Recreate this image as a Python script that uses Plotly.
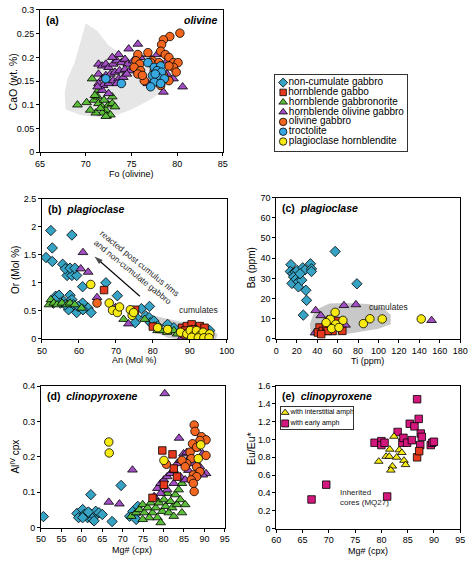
import plotly.graph_objects as go

W, H = 474, 564
FONT = "Arial, Liberation Sans, sans-serif"

# ---------------- colours / symbols per rock type ----------------
rock_names = ["non-cumulate gabbro", "hornblende gabbo", "hornblende gabbronorite",
              "hornblende olivine gabbro", "olivine gabbro", "troctolite",
              "plagioclase hornblendite"]
rock_colors = ["#36a3c4", "#e4391c", "#5bbd3a", "#a24fc4", "#f2661f", "#3aa8e0", "#f6ea12"]
rock_symbols = ["diamond", "square", "triangle-up", "triangle-up", "circle", "circle", "circle"]

# ---------------- panel (a): olivine Fo vs CaO ----------------
a_field_fo = [70.0, 71.3, 72.5, 74.5, 77.0, 79.0, 78.6, 77.0, 75.0, 72.5, 69.5, 67.8, 67.7, 68.0, 68.8, 69.5]
a_field_cao = [0.272, 0.255, 0.225, 0.2, 0.19, 0.17, 0.13, 0.11, 0.09, 0.072, 0.078, 0.09, 0.125, 0.155, 0.19, 0.24]

a_gn_fo = [69.1, 70.1, 70.7, 70.9, 71.3, 71.4, 71.8, 72.2, 72.5, 72.9, 73.2, 71.8, 71.1, 72.3, 72.7, 71.6, 72.0, 71.4, 71.0, 70.5, 72.9, 72.2]
a_gn_cao = [0.10, 0.105, 0.155, 0.11, 0.117, 0.103, 0.096, 0.089, 0.10, 0.103, 0.096, 0.083, 0.083, 0.077, 0.079, 0.093, 0.11, 0.131, 0.12, 0.089, 0.117, 0.076]
a_hog_fo = [71.4, 71.8, 72.2, 72.5, 73.0, 73.4, 73.9, 74.3, 74.6, 75.2, 71.4, 71.8, 72.2, 72.7, 73.2, 73.7, 74.3, 74.8,
            71.4, 71.9, 72.5, 73.0, 73.6, 74.1, 71.8, 72.5, 71.3, 73.4, 74.5, 75.3, 76.0, 76.8, 77.8, 78.9, 78.2, 78.9,
            76.8, 80.6, 78.5, 79.6, 75.7, 74.7, 73.6, 72.9]
a_hog_cao = [0.186, 0.182, 0.186, 0.179, 0.186, 0.193, 0.189, 0.196, 0.186, 0.193, 0.165, 0.155, 0.162, 0.165, 0.169, 0.172, 0.175, 0.172,
             0.145, 0.141, 0.145, 0.151, 0.155, 0.158, 0.131, 0.124, 0.138, 0.145, 0.165, 0.179, 0.20, 0.206, 0.206, 0.193, 0.172, 0.165,
             0.145, 0.138, 0.127, 0.155, 0.228, 0.218, 0.206, 0.20]
a_og_fo = [80.3, 79.2, 78.5, 78.3, 78.2, 78.7, 79.1, 79.6, 80.1, 79.6, 79.1, 76.8, 75.7, 75.5, 75.9, 75.3, 76.0, 75.7, 76.4, 76.2,
           79.9, 77.8, 77.5, 78.5, 79.1, 77.5, 78.2, 77.3, 78.0, 77.1]
a_og_cao = [0.251, 0.244, 0.237, 0.227, 0.213, 0.206, 0.20, 0.189, 0.189, 0.179, 0.182, 0.21, 0.206, 0.193, 0.186, 0.179, 0.172, 0.165, 0.151, 0.162,
            0.169, 0.179, 0.172, 0.162, 0.151, 0.151, 0.141, 0.193, 0.189, 0.189]
a_tr_fo = [72.2, 73.9, 76.8, 77.5, 78.2, 77.8, 78.3, 77.3, 77.9, 78.6, 77.5, 78.2, 77.1, 77.6]
a_tr_cao = [0.155, 0.145, 0.189, 0.179, 0.182, 0.172, 0.169, 0.162, 0.158, 0.155, 0.148, 0.145, 0.138, 0.165]

# ---------------- panel (b): plagioclase An vs Or ----------------
b_field_an = [78.0, 80.0, 86.0, 92.0, 96.0, 97.5, 97.0, 90.0, 84.0, 80.0, 77.5]
b_field_or = [0.38, 0.42, 0.33, 0.25, 0.18, 0.08, -0.02, -0.03, 0.02, 0.15, 0.30]
b_arrow_an = [76.5, 64.2]
b_arrow_or = [0.76, 1.47]

b_nc_an = [51.1, 52.4, 52.8, 52.8, 55.6, 58.1, 56.8, 58.1, 59.4, 56.3, 57.6, 58.9, 61.0, 67.3, 70.4, 61.0, 62.5, 63.3,
           53.1, 53.7, 54.6, 55.9, 57.6, 58.1, 58.5, 57.2, 59.4, 59.8, 61.1, 76.9, 79.1, 78.1, 79.0, 79.4, 80.3, 75.6,
           75.2, 81.3, 84.0, 85.7, 92.7, 94.5, 95.4, 55.0, 56.3, 53.4]
b_nc_or = [1.45, 1.93, 1.62, 1.38, 1.33, 1.85, 1.13, 1.13, 1.13, 1.25, 1.26, 1.26, 0.93, 1.0, 0.77, 0.64, 0.55, 0.47,
           0.64, 0.76, 0.78, 0.67, 0.78, 0.70, 0.61, 0.52, 0.47, 0.58, 0.52, 0.54, 0.58, 0.41, 0.38, 0.29, 0.32, 0.38,
           0.29, 0.23, 0.26, 0.20, 0.17, 0.15, 0.15, 0.64, 0.61, 0.70]
b_gn_an = [51.9, 52.4, 53.2, 54.1, 55.4, 56.8, 57.6, 58.9, 60.7, 72.1, 77.8, 80.4, 81.3, 82.2, 83.9, 84.8, 85.7, 87.5, 86.6]
b_gn_or = [0.61, 0.70, 0.64, 0.61, 0.64, 0.61, 0.64, 0.61, 0.55, 0.35, 0.35, 0.23, 0.15, 0.15, 0.12, 0.15, 0.15, 0.12, 0.09]
b_hog_an = [61.1, 60.5, 62.5, 64.9, 69.9, 73.4, 87.9, 88.8, 91.8]
b_hog_or = [1.54, 1.25, 1.19, 0.74, 0.56, 0.27, 0.03, 0.06, 0.09]
b_hg_an = [66.8, 75.2, 80.0, 87.9, 89.2, 90.5, 92.7, 94.0, 91.0, 88.8]
b_hg_or = [0.87, 0.52, 0.22, 0.20, 0.23, 0.26, 0.23, 0.20, 0.17, 0.15]
b_og_an = [64.9, 88.3, 91.8]
b_og_or = [0.64, 0.09, 0.12]
b_ph_an = [63.2, 68.2, 69.1, 70.4, 71.0, 73.9, 74.4, 74.8, 81.3, 84.0, 87.5, 89.2, 90.1, 91.0, 91.8, 92.7, 93.6, 94.5, 95.4,
           90.5, 92.3, 93.8, 95.2]
b_ph_or = [0.97, 0.64, 0.51, 0.47, 0.57, 0.52, 0.42, 0.47, 0.20, 0.17, 0.12, 0.09, 0.15, 0.06, 0.15, 0.06, 0.12, 0.03, 0.09,
           0.03, 0.02, 0.02, 0.02]

# ---------------- panel (c): plagioclase Ti vs Ba ----------------
c_field_ti = [32.8, 36.0, 42.3, 52.0, 67.7, 90.0, 104.0, 112.0, 112.0, 100.0, 86.8, 58.0, 34.0]
c_field_ba = [7.3, 12.0, 15.3, 17.5, 17.8, 17.3, 15.5, 12.0, 7.3, 5.0, 4.0, 1.6, 1.6]

c_nc_ti = [14.3, 13.7, 16.2, 18.4, 20.4, 16.9, 15.3, 19.2, 21.6, 21.6, 24.8, 25.8, 28.0, 33.4, 34.4, 34.4, 28.9, 29.6, 26.4,
           57.6, 78.9, 23.2]
c_nc_ba = [36.8, 33.4, 32.3, 33.1, 33.9, 30.7, 27.5, 29.6, 28.3, 25.8, 29.1, 35.2, 34.2, 37.2, 34.7, 33.4, 24.1, 19.1, 11.8,
           43.3, 27.3, 32.3]
c_hog_ti = [38.5, 43.6, 66.2, 77.9, 152.0, 67.7, 48.0, 37.9, 50.3]
c_hog_ba = [14.1, 11.6, 16.6, 17.0, 9.2, 6.9, 5.2, 3.1, 9.7]
c_hg_ti = [42.3, 40.7, 45.5, 48.7, 51.8, 55.0, 58.2, 61.3, 64.6, 55.0, 50.3, 43.9]
c_hg_ba = [5.7, 3.2, 4.0, 6.5, 8.1, 7.3, 8.9, 6.5, 4.0, 4.0, 4.0, 2.4]
c_ph_ti = [57.6, 52.8, 65.2, 58.2, 54.1, 61.3, 85.2, 91.6, 103.7, 141.9, 48.7]
c_ph_ba = [13.2, 9.7, 9.2, 7.3, 5.2, 5.7, 7.6, 10.0, 9.9, 9.9, 8.1]

# ---------------- panel (d): clinopyroxene Mg# vs Al(IV) ----------------
d_nc_mg = [50.6, 58.8, 59.2, 60.2, 60.6, 61.4, 62.0, 62.2, 62.6, 63.2, 63.4, 64.2, 65.0, 63.0, 67.4, 69.6, 60.2, 61.6,
           71.7, 72.5, 72.9, 73.7, 73.3]
d_nc_al = [0.031, 0.040, 0.028, 0.051, 0.037, 0.028, 0.040, 0.093, 0.023, 0.032, 0.046, 0.042, 0.037, 0.019, 0.017, 0.119,
           0.028, 0.044, 0.032, 0.046, 0.034, 0.060, 0.023]
d_hog_mg = [80.3, 66.6, 69.2, 72.4, 83.8, 78.5, 79.3, 80.1, 80.9, 81.7, 82.5, 83.3, 84.1, 84.9, 85.7, 86.5, 87.3, 88.9,
            89.6, 90.4, 89.6, 82.5, 80.9, 79.3, 77.7, 84.1, 85.3, 86.1, 88.1, 88.5]
d_hog_al = [0.379, 0.072, 0.067, 0.163, 0.253, 0.111, 0.125, 0.135, 0.144, 0.153, 0.162, 0.181, 0.19, 0.209, 0.213, 0.20,
            0.181, 0.172, 0.209, 0.153, 0.149, 0.125, 0.107, 0.097, 0.088, 0.144, 0.135, 0.162, 0.223, 0.237]
d_gn_mg = [72.1, 73.3, 74.1, 74.9, 75.3, 76.1, 76.9, 77.3, 78.1, 78.5, 78.9, 79.7, 80.1, 80.5, 81.3, 81.7, 82.1, 82.9,
           83.3, 83.7, 84.1, 84.5, 85.3, 84.5, 76.5, 74.9, 82.5, 77.7, 80.9, 79.3]
d_gn_al = [0.032, 0.042, 0.051, 0.065, 0.042, 0.056, 0.070, 0.042, 0.056, 0.028, 0.070, 0.046, 0.079, 0.060, 0.042, 0.074,
           0.056, 0.093, 0.065, 0.107, 0.079, 0.042, 0.065, 0.125, 0.028, 0.023, 0.032, 0.084, 0.097, 0.014]
d_hg_mg = [79.7, 82.2, 77.3, 80.1, 82.5, 83.3]
d_hg_al = [0.218, 0.207, 0.084, 0.121, 0.167, 0.144]
d_og_mg = [87.5, 87.7, 89.3, 90.4, 88.9, 87.1, 88.1, 86.5, 90.4, 86.8, 85.7, 88.1, 88.9, 87.3, 88.1, 86.8, 87.3, 87.5,
           80.7, 84.5, 85.3]
d_og_al = [0.290, 0.272, 0.257, 0.248, 0.246, 0.237, 0.227, 0.213, 0.204, 0.195, 0.181, 0.172, 0.158, 0.149, 0.144, 0.135,
           0.125, 0.102, 0.179, 0.190, 0.172]
d_ph_mg = [66.6, 66.7, 80.1, 89.1, 88.5]
d_ph_al = [0.242, 0.211, 0.190, 0.234, 0.195]

# ---------------- panel (e): clinopyroxene Mg# vs Eu/Eu* ----------------
e_early_mg = [66.7, 69.5, 81.1, 78.7, 80.0, 80.0, 80.6, 83.1, 84.0, 84.2, 84.9, 85.4, 85.8, 86.3, 86.8, 87.1, 87.5, 87.7,
              87.4, 89.4, 89.7, 90.0]
e_early_eu = [0.327, 0.493, 0.36, 0.964, 0.982, 0.938, 0.964, 1.085, 0.964, 1.019, 0.964, 1.177, 0.993, 1.148, 1.453, 1.232,
              1.067, 1.030, 0.938, 0.938, 0.964, 0.975]
e_red_mg = [86.8, 87.2]
e_red_eu = [0.80, 0.87]
e_inter_mg = [79.5, 80.9, 81.5, 81.6, 82.1, 81.8, 82.4, 82.9, 83.4, 83.9, 84.3, 84.6]
e_inter_eu = [0.754, 0.81, 0.81, 0.89, 0.70, 0.655, 1.035, 0.80, 0.883, 0.853, 0.765, 0.717]

fig = go.Figure()


def dom_x(p0, p1):
    return [p0 / W, p1 / W]


def dom_y(p0, p1):
    return [1 - p1 / H, 1 - p0 / H]


def field(x, y, ax, color):
    fig.add_trace(go.Scatter(x=x + [x[0]], y=y + [y[0]], mode="lines", fill="toself",
                             fillcolor=color, line=dict(width=0, color=color),
                             xaxis=ax[0], yaxis=ax[1], showlegend=False, hoverinfo="skip"))


def pts(x, y, idx, ax, size=None, color=None, symbol=None):
    sym = symbol or rock_symbols[idx]
    s = size or {"diamond": 8, "square": 7.5, "triangle-up": 8.5, "circle": 8.5}[sym]
    fig.add_trace(go.Scatter(x=x, y=y, mode="markers", xaxis=ax[0], yaxis=ax[1], showlegend=False,
                             marker=dict(symbol=sym, size=s, color=color or rock_colors[idx],
                                         line=dict(color="black", width=0.8))))


A = ("x", "y"); B = ("x2", "y2"); C = ("x3", "y3"); D = ("x4", "y4"); E = ("x5", "y5")

# (a)
field(a_field_fo, a_field_cao, A, "#e6e6e6")
pts(a_gn_fo, a_gn_cao, 2, A)
pts(a_hog_fo, a_hog_cao, 3, A)
pts(a_og_fo, a_og_cao, 4, A)
pts(a_tr_fo, a_tr_cao, 5, A)
# (b)
field(b_field_an, b_field_or, B, "#d0d0d0")
fig.add_trace(go.Scatter(x=b_arrow_an, y=b_arrow_or, mode="lines+markers", xaxis="x2", yaxis="y2",
                         showlegend=False, hoverinfo="skip", line=dict(color="black", width=1.1),
                         marker=dict(symbol=["circle", "arrow"], size=[0, 9], angleref="previous",
                                     color="black", line=dict(width=0))))
pts(b_nc_an, b_nc_or, 0, B)
pts(b_gn_an, b_gn_or, 2, B)
pts(b_hog_an, b_hog_or, 3, B)
pts(b_hg_an, b_hg_or, 1, B)
pts(b_og_an, b_og_or, 4, B)
pts(b_ph_an, b_ph_or, 6, B)
# (c)
field(c_field_ti, c_field_ba, C, "#c8c8c8")
pts(c_nc_ti, c_nc_ba, 0, C)
pts(c_hog_ti, c_hog_ba, 3, C)
pts(c_hg_ti, c_hg_ba, 1, C)
pts(c_ph_ti, c_ph_ba, 6, C)
# (d)
pts(d_nc_mg, d_nc_al, 0, D)
pts(d_gn_mg, d_gn_al, 2, D)
pts(d_hog_mg, d_hog_al, 3, D)
pts(d_hg_mg, d_hg_al, 1, D)
pts(d_og_mg, d_og_al, 4, D)
pts(d_ph_mg, d_ph_al, 6, D)
# (e)
pts(e_early_mg, e_early_eu, 1, E, color="#d4177c")
pts(e_red_mg, e_red_eu, 1, E, color="#e4391c")
pts(e_inter_mg, e_inter_eu, 6, E, symbol="triangle-up", size=7.5)

# main legend (drawn in its own small axis)
leg_rows = [8, 18, 28, 38, 48, 58, 68]
for i, name in enumerate(rock_names):
    sym = rock_symbols[i]
    s = {"diamond": 7, "square": 6.5, "triangle-up": 7.5, "circle": 7.5}[sym]
    fig.add_trace(go.Scatter(x=[8], y=[leg_rows[i]], mode="markers+text", text=[name],
                             textposition="middle right", xaxis="x6", yaxis="y6", showlegend=False,
                             textfont=dict(size=10, color="black", family=FONT),
                             marker=dict(symbol=sym, size=s, color=rock_colors[i],
                                         line=dict(color="black", width=0.8))))

# panel (e) inner legend
e_leg_names = ["with interstitial amph", "with early amph"]
e_leg_colors = ["#f6ea12", "#d4177c"]
e_leg_symbols = ["triangle-up", "square"]
for i, name in enumerate(e_leg_names):
    fig.add_trace(go.Scatter(x=[4], y=[6 + 11 * i], mode="markers+text", text=[name],
                             textposition="middle right", xaxis="x7", yaxis="y7", showlegend=False,
                             textfont=dict(size=7, color="black", family=FONT),
                             marker=dict(symbol=e_leg_symbols[i], size=7, color=e_leg_colors[i],
                                         line=dict(color="black", width=0.8))))


def axis(domain, rng, dtick=None, tickvals=None, ticktext=None, anchor=None):
    d = dict(domain=domain, range=rng, showline=True, linecolor="black", linewidth=1, mirror=True,
             ticks="outside", ticklen=3, tickwidth=1, tickcolor="black", showgrid=False, zeroline=False,
             tickfont=dict(size=9, family=FONT, color="black"), anchor=anchor)
    if dtick is not None:
        d["dtick"] = dtick
        d["tick0"] = rng[0]
    if tickvals is not None:
        d["tickmode"] = "array"
        d["tickvals"] = tickvals
        d["ticktext"] = ticktext
    return d


def hidden(domain, rng, anchor):
    return dict(domain=domain, range=rng, showline=True, mirror=True, linecolor="#333",
                linewidth=1, showticklabels=False, ticks="", showgrid=False, zeroline=False, anchor=anchor)


layout = dict(
    width=W, height=H, margin=dict(l=0, r=0, t=0, b=0), paper_bgcolor="white", plot_bgcolor="white",
    showlegend=False, font=dict(family=FONT, color="black"),
    xaxis=axis(dom_x(36, 224), [65, 85], 5, anchor="y"),
    yaxis=axis(dom_y(5, 150), [0, 0.3], tickvals=[0, 0.05, 0.1, 0.15, 0.2, 0.25, 0.3],
               ticktext=["0", "0.05", "0.1", "0.15", "0.2", "0.25", "0.3"], anchor="x"),
    xaxis2=axis(dom_x(38, 228), [50, 100], 10, anchor="y2"),
    yaxis2=axis(dom_y(197, 340), [0, 2.5], 0.5, anchor="x2"),
    xaxis3=axis(dom_x(279, 468), [0, 180], 20, anchor="y3"),
    yaxis3=axis(dom_y(196, 340), [0, 70], 10, anchor="x3"),
    xaxis4=axis(dom_x(37, 226), [50, 95], 5, anchor="y4"),
    yaxis4=axis(dom_y(388, 532), [0, 0.4], 0.1, anchor="x4"),
    xaxis5=axis(dom_x(279, 468), [60, 95], 5, anchor="y5"),
    yaxis5=axis(dom_y(388, 533), [0, 1.6], tickvals=[0, 0.2, 0.4, 0.6, 0.8, 1.0, 1.2, 1.4, 1.6],
                ticktext=["0", "0.2", "0.4", "0.6", "0.8", "1.0", "1.2", "1.4", "1.6"], anchor="x5"),
    xaxis6=hidden(dom_x(278, 413), [0, 135], "y6"),
    yaxis6=hidden(dom_y(71, 149), [78, 0], "x6"),
    xaxis7=hidden(dom_x(284, 358), [0, 74], "y7"),
    yaxis7=hidden(dom_y(409, 432), [23, 0], "x7"),
)

ann = []


def label(ax, text, x=0.02, y=0.985, xanchor="left", size=10.5):
    ann.append(dict(xref=f"{ax} domain", yref=f"{ax.replace('x', 'y')} domain", x=x, y=y,
                    xanchor=xanchor, yanchor="top", text=text, showarrow=False,
                    font=dict(size=size, family=FONT, color="black")))


def title(text, px, py, angle=0, size=9):
    ann.append(dict(xref="paper", yref="paper", x=px / W, y=1 - py / H, xanchor="center", yanchor="middle",
                    text=text, showarrow=False, textangle=angle,
                    font=dict(size=size, family=FONT, color="black")))


label("x", "<b>(a)</b>")
label("x", "<b><i>olivine</i></b>", x=0.98, xanchor="right")
label("x2", "<b>(b)</b>  <b><i>plagioclase</i></b>")
label("x3", "<b>(c)</b>  <b><i>plagioclase</i></b>")
label("x4", "<b>(d)</b>  <b><i>clinopyroxene</i></b>")
label("x5", "<b>(e)</b>  <b><i>clinopyroxene</i></b>")

# axis titles placed at their reference positions
title("Fo (olivine)", 130, 172)
title("CaO (wt. %)", 8, 78, -90, 10.5)
title("An (Mol %)", 133, 361)
title("Or (Mol %)", 11, 270, -90, 10)
title("Ti (ppm)", 373, 362)
title("Ba (ppm)", 253, 268, -90, 10)
title("Mg# (cpx)", 131, 555)
title("Al<sup>IV</sup> cpx", 10, 460, -90, 10)
title("Mg# (cpx)", 373, 556)
title("Eu/Eu*", 253, 452, -90, 10.5)

ann += [
    dict(xref="x2", yref="y2", x=92.4, y=0.51, text="cumulates", showarrow=False,
         font=dict(size=8.5, family=FONT, color="#222")),
    dict(xref="x3", yref="y3", x=110, y=16, text="cumulates", showarrow=False,
         font=dict(size=8.5, family=FONT, color="#222")),
    dict(xref="x2", yref="y2", x=75.5, y=1.28, text="reacted post cumulus rims<br>and non-cumulate gabbro",
         showarrow=False, textangle=39, font=dict(size=8.5, family=FONT, color="#222")),
    dict(xref="x5", yref="y5", x=71.8, y=0.48, xanchor="left", yanchor="top", align="left",
         text="Inherited<br>cores (MQ27)", showarrow=False, font=dict(size=8, family=FONT, color="#222")),
]
layout["annotations"] = ann

fig.update_layout(**layout)
fig.write_html("out.html", config={"displayModeBar": False},
               post_script="document.body.style.margin='0px';document.body.style.padding='0px';")
